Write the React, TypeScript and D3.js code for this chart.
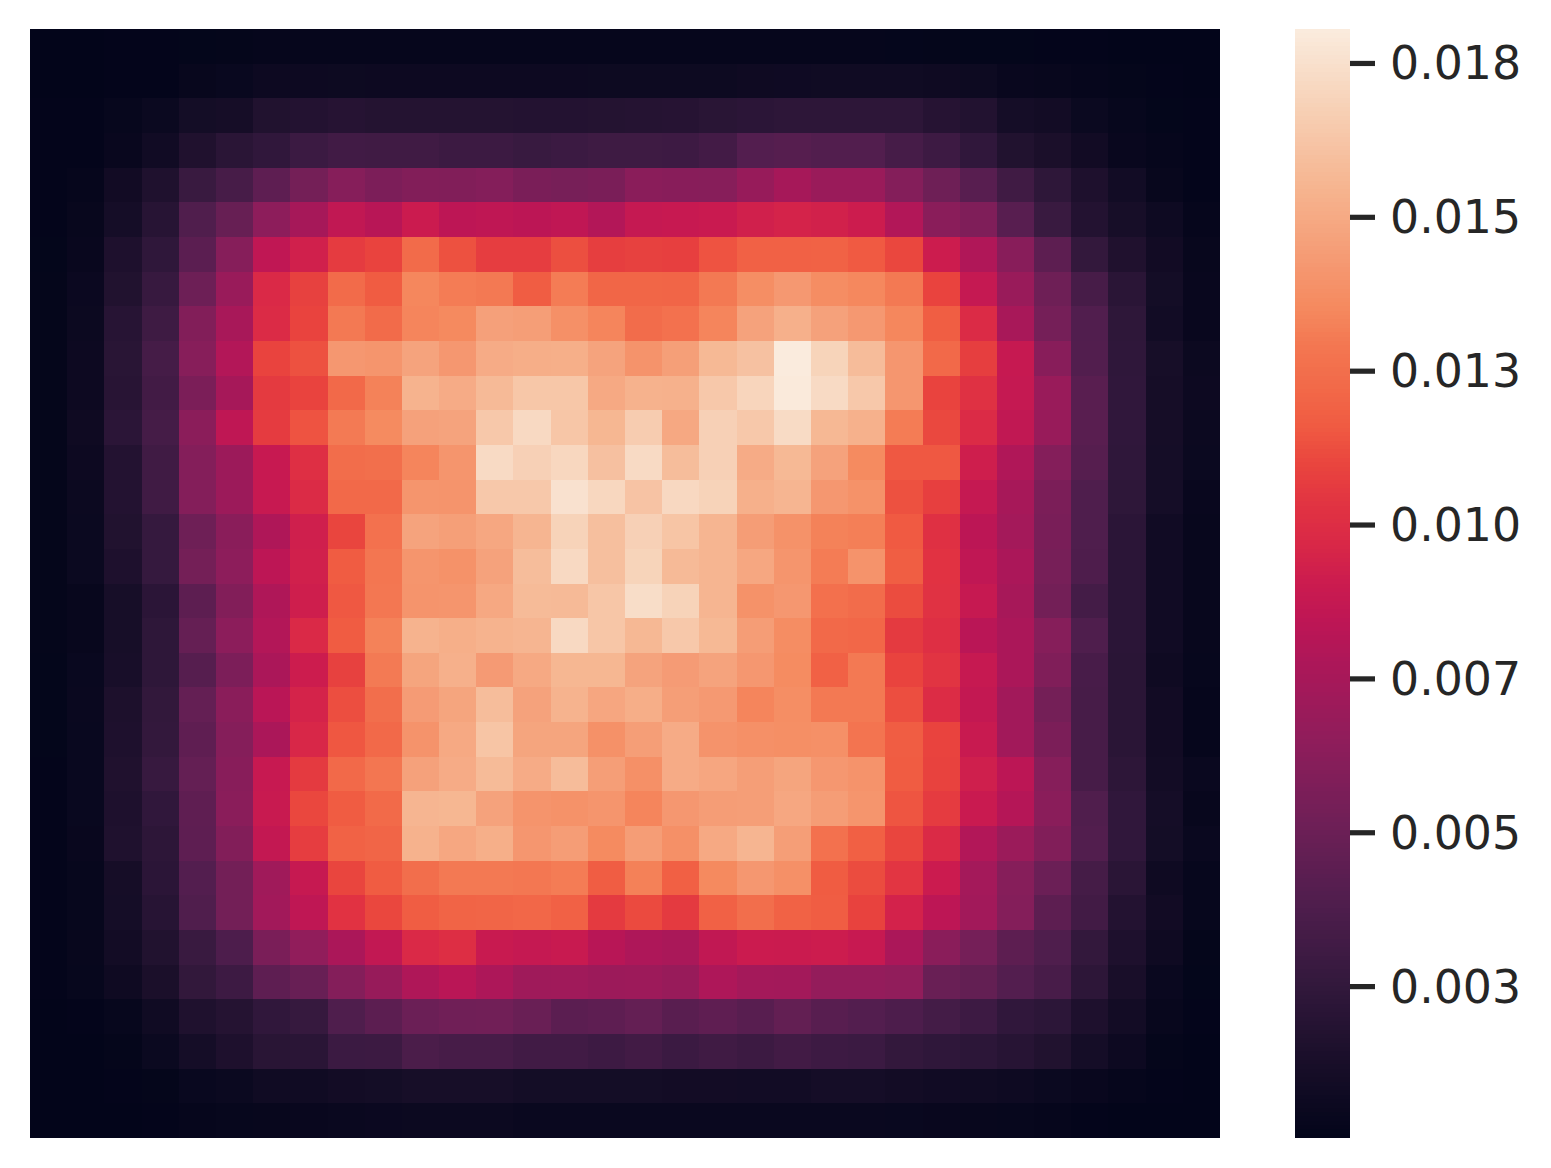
import * as d3 from "d3";

// heatmap values, in units of 1e-5
const row00 = [5,5,8,8,12,14,18,20,20,20,20,20,20,20,20,20,20,20,20,20,20,18,18,16,14,12,12,10,8,5,5,5];
const row01 = [6,6,8,10,30,40,58,60,62,60,60,60,60,60,60,62,62,62,62,70,72,75,78,76,70,62,35,30,22,14,8,6];
const row02 = [8,10,25,50,100,110,165,175,190,180,180,178,180,175,175,178,185,190,205,215,225,225,225,225,190,170,105,95,50,25,12,8];
const row03 = [8,10,35,80,160,210,240,290,315,310,310,295,295,275,290,305,305,300,325,400,410,395,395,340,300,240,165,135,85,35,20,10];
const row04 = [10,22,85,155,280,345,445,535,610,570,595,590,600,560,550,560,625,620,615,680,745,695,695,600,510,420,310,230,150,90,30,10];
const row05 = [10,30,105,195,385,480,640,745,860,820,905,840,850,835,855,800,875,885,895,930,945,935,910,795,625,580,420,280,175,115,65,20];
const row06 = [12,35,150,235,430,610,855,930,1065,1095,1235,1135,1070,1070,1130,1075,1085,1080,1140,1190,1190,1195,1160,1105,910,790,620,440,250,160,85,30];
const row07 = [15,48,165,270,505,690,975,1085,1235,1165,1345,1310,1300,1170,1310,1210,1210,1205,1300,1375,1425,1370,1350,1300,1095,875,690,510,345,210,100,35];
const row08 = [15,55,195,305,595,755,985,1095,1300,1235,1340,1355,1460,1450,1385,1340,1240,1265,1340,1470,1530,1465,1425,1345,1175,985,755,540,390,230,90,35];
const row09 = [15,60,205,335,615,800,1095,1135,1420,1410,1475,1420,1510,1520,1525,1475,1400,1455,1570,1610,1805,1695,1585,1415,1225,1075,880,620,395,235,115,55];
const row10 = [15,60,200,320,565,745,1060,1095,1225,1330,1545,1510,1575,1635,1635,1500,1540,1535,1640,1700,1800,1725,1640,1415,1095,1020,875,690,425,240,110,60];
const row11 = [15,70,215,335,630,850,1065,1140,1305,1360,1465,1475,1640,1720,1630,1560,1660,1495,1680,1640,1730,1565,1535,1310,1110,985,860,685,425,240,110,55];
const row12 = [15,60,175,310,600,705,885,1010,1245,1255,1340,1410,1725,1680,1710,1605,1725,1590,1680,1510,1570,1470,1360,1155,1155,920,790,600,410,235,105,50];
const row13 = [15,55,175,310,600,705,885,985,1225,1225,1410,1405,1640,1640,1760,1710,1620,1715,1690,1530,1555,1420,1395,1135,1080,875,750,565,380,230,105,35];
const row14 = [15,50,165,260,510,625,785,925,1100,1265,1475,1455,1490,1555,1690,1600,1680,1625,1555,1445,1395,1330,1320,1160,1015,835,740,555,380,215,80,30];
const row15 = [15,50,150,260,535,640,840,930,1165,1290,1410,1395,1470,1590,1720,1600,1695,1575,1555,1490,1410,1310,1400,1175,1030,855,770,550,375,215,80,30];
const row16 = [15,30,115,215,440,595,785,920,1155,1295,1405,1410,1495,1580,1575,1630,1740,1690,1555,1395,1420,1260,1240,1120,1025,880,750,530,330,215,80,30];
const row17 = [15,30,115,230,475,635,800,975,1165,1330,1545,1525,1545,1555,1720,1630,1565,1640,1570,1445,1370,1225,1215,1060,1010,830,770,610,380,215,80,30];
const row18 = [12,40,120,230,410,570,770,910,1085,1305,1480,1530,1435,1500,1560,1560,1475,1440,1475,1420,1365,1190,1300,1095,1035,880,770,585,350,210,70,25];
const row19 = [12,45,145,245,470,625,830,945,1125,1250,1440,1480,1590,1470,1545,1485,1520,1450,1430,1340,1375,1300,1300,1125,995,870,730,535,345,210,85,20];
const row20 = [12,40,150,250,450,605,770,965,1150,1225,1400,1500,1625,1480,1480,1390,1450,1510,1400,1385,1380,1385,1280,1170,1095,890,730,565,345,210,85,20];
const row21 = [10,40,160,270,470,620,885,1060,1225,1290,1465,1510,1580,1510,1585,1450,1385,1510,1485,1450,1480,1420,1400,1165,1090,925,835,610,345,225,95,45];
const row22 = [10,40,150,240,450,625,890,1105,1165,1230,1555,1560,1470,1405,1395,1410,1340,1420,1445,1450,1490,1445,1410,1145,1065,895,810,625,385,240,105,30];
const row23 = [10,35,155,225,445,595,870,1070,1195,1205,1540,1490,1525,1415,1445,1360,1445,1385,1500,1555,1450,1265,1185,1100,980,795,700,590,395,240,100,45];
const row24 = [8,25,110,215,400,530,720,880,1100,1165,1250,1300,1300,1295,1310,1170,1325,1185,1355,1420,1385,1165,1120,1040,905,740,610,500,335,210,70,25];
const row25 = [8,25,105,195,385,530,730,850,1030,1105,1170,1200,1205,1215,1190,1060,1115,1060,1190,1250,1195,1170,1090,940,840,730,600,440,320,175,85,25];
const row26 = [8,30,95,165,280,370,560,655,770,865,975,1005,890,875,890,820,780,765,860,905,900,910,885,770,625,540,440,380,250,150,70,15];
const row27 = [8,25,70,135,245,300,445,485,600,680,785,830,775,715,720,705,710,685,780,740,735,670,670,655,490,465,400,350,225,125,45,12];
const row28 = [6,8,25,75,155,185,240,265,380,435,500,520,525,490,430,445,470,425,450,420,465,420,400,370,330,300,240,220,150,95,30,8];
const row29 = [6,6,15,50,105,150,205,210,290,295,360,345,345,315,315,300,320,290,310,295,320,300,290,250,235,220,195,165,105,60,14,6];
const row30 = [6,6,8,15,40,50,75,78,95,100,115,118,115,100,100,100,100,95,95,90,90,105,105,95,80,75,65,50,35,20,10,6];
const row31 = [5,5,5,8,20,25,30,35,45,48,55,55,55,45,45,45,45,45,45,45,45,45,45,40,35,30,25,20,10,5,5,5];

const rows = [
  row00, row01, row02, row03, row04, row05, row06, row07,
  row08, row09, row10, row11, row12, row13, row14, row15,
  row16, row17, row18, row19, row20, row21, row22, row23,
  row24, row25, row26, row27, row28, row29, row30, row31,
];

const tickValues = [0.0025, 0.005, 0.0075, 0.01, 0.0125, 0.015, 0.0175];
const tickLabels = ["0.003", "0.005", "0.007", "0.010", "0.013", "0.015", "0.018"];

// seaborn "rocket", sampled
const rocketPositions = [0, 0.071, 0.143, 0.214, 0.286, 0.357, 0.429, 0.464, 0.5, 0.536, 0.571, 0.607, 0.643, 0.679, 0.714, 0.75, 0.786, 0.857, 0.929, 1];
const rocketStops = [
  "#03051a", "#1a0f2a", "#35193e", "#511e4e", "#701f57", "#8f1d5b", "#ad1759", "#bd1655", "#cb1b4f", "#d92847",
  "#e13342", "#e9443e", "#f05b42", "#f26a49", "#f37651", "#f58a5f", "#f59770", "#f6b48f", "#f7d0b5", "#faebdd",
];

const WIDTH = 1551;
const HEIGHT = 1168;
const TOP = 29;
const BOTTOM = 1138;
const VMIN = 0.00004;
const VMAX = 0.01806;

export default function App() {
  const indices = d3.range(rows.length);
  const x = d3.scaleBand<number>().domain(indices).range([30, 1220]);
  const y = d3.scaleBand<number>().domain(indices).range([TOP, BOTTOM]);

  const rocket = d3.scaleLinear<string>().domain(rocketPositions).range(rocketStops);
  const norm = d3.scaleLinear().domain([VMIN, VMAX]).range([0, 1]).clamp(true);
  const barY = d3.scaleLinear().domain([VMIN, VMAX]).range([BOTTOM, TOP]);

  const barSteps = d3.range(256);
  const barValue = d3.scaleLinear().domain([0, 256]).range([VMIN, VMAX]);

  return (
    <svg
      width={WIDTH}
      height={HEIGHT}
      style={{ position: "absolute", left: 0, top: 0, display: "block", background: "#ffffff" }}
    >
      <g shapeRendering="crispEdges">
        {rows.map((row, r) =>
          row.map((value, c) => (
            <rect
              key={`${r}-${c}`}
              x={x(c)}
              y={y(r)}
              width={x.bandwidth()}
              height={y.bandwidth()}
              fill={rocket(norm(value / 100000))}
            />
          ))
        )}
      </g>

      <g shapeRendering="crispEdges">
        {barSteps.map((step) => (
          <rect
            key={step}
            x={1295}
            width={55}
            y={barY(barValue(step + 1))}
            height={barY(barValue(step)) - barY(barValue(step + 1))}
            fill={rocket(step / 255)}
          />
        ))}
      </g>

      {tickValues.map((tick, i) => (
        <g key={tick} transform={`translate(1350,${barY(tick)})`}>
          <line x2={25} stroke="#262626" strokeWidth={5.2} />
          <text x={40} dy="0.35em" fontFamily="'DejaVu Sans'" fontSize={45.8} fill="#262626">
            {tickLabels[i]}
          </text>
        </g>
      ))}
    </svg>
  );
}
